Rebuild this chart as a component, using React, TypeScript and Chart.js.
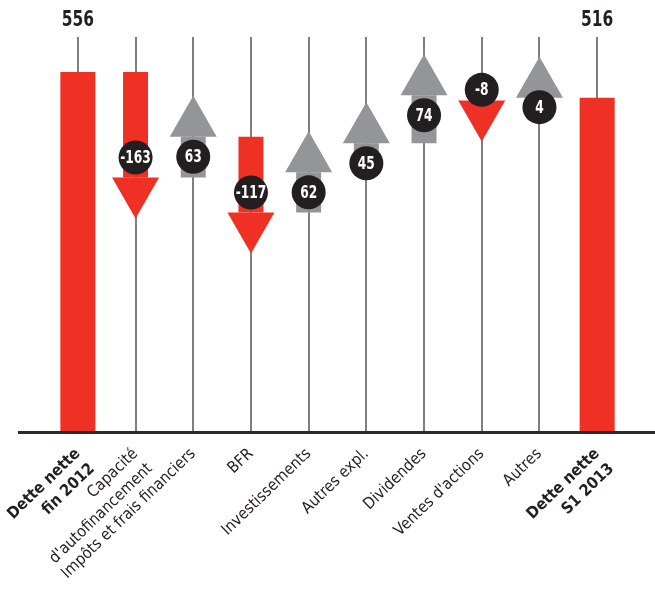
import React, { useEffect, useRef } from "react";
import { Chart, registerables } from "chart.js";

Chart.register(...registerables);

// Category labels (multi-line entries are drawn on two lines)
const categories: (string | string[])[] = [
  ["Dette nette", "fin 2012"],
  ["Capacité", "d'autofinancement"],
  "Impôts et frais financiers",
  "BFR",
  "Investissements",
  "Autres expl.",
  "Dividendes",
  "Ventes d'actions",
  "Autres",
  ["Dette nette", "S1 2013"],
];

// Net debt at the start and end of the period
const openingDebt = 556;
const closingDebt = 516;

// Movements between the two totals, in category order
const movements = [-163, 63, -117, 62, 45, 74, -8, 4];

const RED = "#ee3124";
const GREY = "#939598";
const INK = "#231f20";
const FONT = "'Liberation Sans Narrow', 'DejaVu Sans Condensed', 'Arial Narrow', sans-serif";

// Draws text squeezed horizontally, for a narrow display face
function narrowText(ctx: CanvasRenderingContext2D, text: string, x: number, y: number, squeeze: number) {
  ctx.save();
  ctx.translate(x, y);
  ctx.scale(squeeze, 1);
  ctx.fillText(text, 0, 0);
  ctx.restore();
}

export default function App() {
  const canvasRef = useRef<HTMLCanvasElement>(null);

  useEffect(() => {
    const canvas = canvasRef.current;
    if (!canvas) return;
    const n = categories.length;

    // Running debt level after each movement
    const levels: number[] = [openingDebt];
    movements.forEach((m) => levels.push(levels[levels.length - 1] + m));

    const totals = categories.map((_, i) =>
      i === 0 ? openingDebt : i === n - 1 ? closingDebt : null
    );
    const steps = categories.map((_, i) =>
      i > 0 && i < n - 1 ? [levels[i - 1], levels[i]] : null
    );
    const stepColors = categories.map((_, i) =>
      i > 0 && i < n - 1 && movements[i - 1] > 0 ? GREY : RED
    );

    const overlay = {
      id: "waterfallOverlay",
      afterDatasetsDraw(chart: any) {
        const { ctx, chartArea } = chart;
        const x = chart.scales.x;
        const y = chart.scales.y;
        ctx.save();

        // Arrow heads and value discs on each movement
        movements.forEach((m, k) => {
          const i = k + 1;
          const cx = x.getPixelForValue(i);
          const from = y.getPixelForValue(levels[k]);
          const to = y.getPixelForValue(levels[k + 1]);
          const dir = m < 0 ? 1 : -1;
          const headLen = 41;
          const headHalf = 23.5;

          ctx.fillStyle = m < 0 ? RED : GREY;
          ctx.beginPath();
          ctx.moveTo(cx - headHalf, to);
          ctx.lineTo(cx + headHalf, to);
          ctx.lineTo(cx, to + dir * headLen);
          ctx.closePath();
          ctx.fill();

          const shaft = Math.abs(to - from);
          const back = Math.min(20, shaft / 2 + 8);
          const cy = to - dir * back;
          ctx.fillStyle = INK;
          ctx.beginPath();
          ctx.arc(cx, cy, 17, 0, Math.PI * 2);
          ctx.fill();

          ctx.fillStyle = "#ffffff";
          ctx.font = `bold 17px ${FONT}`;
          ctx.textAlign = "center";
          ctx.textBaseline = "middle";
          narrowText(ctx, String(m), cx, cy + 1, 0.8);
        });

        // Totals written above their columns
        ctx.fillStyle = INK;
        ctx.font = `bold 22px ${FONT}`;
        ctx.textAlign = "center";
        ctx.textBaseline = "middle";
        [0, n - 1].forEach((i) => {
          narrowText(ctx, String(totals[i]), x.getPixelForValue(i), chartArea.top - 17, 0.78);
        });

        // Base line running across the whole width
        ctx.fillStyle = "#2b2b2b";
        ctx.fillRect(18, chartArea.bottom - 1, chart.width - 18, 3);
        ctx.restore();
      },
    };

    const chart = new Chart(canvas, {
      type: "bar",
      data: {
        labels: categories,
        datasets: [
          {
            data: totals as any,
            backgroundColor: RED,
            grouped: false,
            barPercentage: 0.607,
            categoryPercentage: 1,
            borderWidth: 0,
          },
          {
            data: steps as any,
            backgroundColor: stepColors,
            grouped: false,
            barPercentage: 0.433,
            categoryPercentage: 1,
            borderWidth: 0,
          },
        ],
      },
      options: {
        responsive: false,
        animation: false,
        layout: { padding: { left: 49, right: 29, top: 37, bottom: 0 } },
        plugins: {
          legend: { display: false },
          tooltip: { enabled: false },
        },
        scales: {
          x: {
            grid: { offset: false, color: "#7f7f7f", lineWidth: 2, drawTicks: false },
            border: { display: false },
            ticks: {
              autoSkip: false,
              minRotation: 44,
              maxRotation: 44,
              padding: 12,
              color: INK,
              font: (c: any) => ({
                family: FONT,
                size: 16,
                lineHeight: 1.3,
                weight: c.index === 0 || c.index === n - 1 ? "bold" : "normal",
              }),
            },
            afterFit(scale: any) {
              scale.height = 157;
              scale.paddingLeft = 0;
              scale.paddingRight = 0;
            },
          },
          y: { display: false, min: 0, max: 610 },
        },
      },
      plugins: [overlay],
    });

    return () => chart.destroy();
  }, []);

  return (
    <div style={{ position: "fixed", left: 0, top: 0, width: 655, height: 589, background: "#fff" }}>
      <canvas ref={canvasRef} width={655} height={589} />
    </div>
  );
}
